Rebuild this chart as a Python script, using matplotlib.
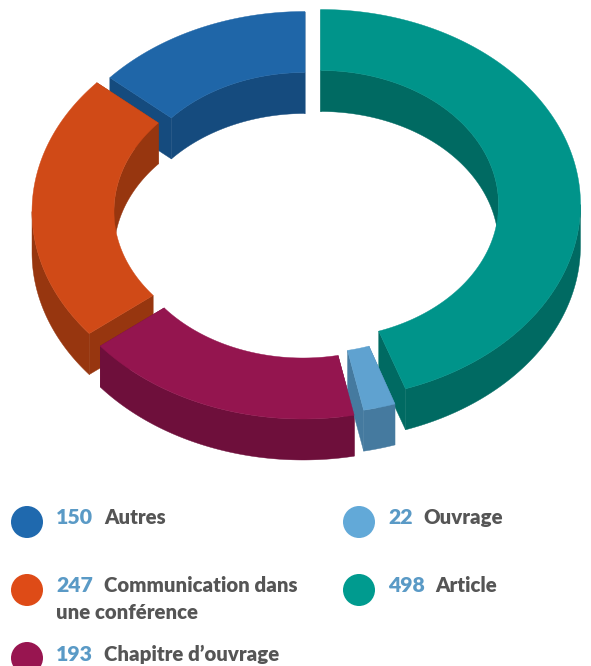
import numpy as np
import matplotlib
matplotlib.use("Agg")
import matplotlib.pyplot as plt
from matplotlib.patches import Circle, Polygon

# clockwise from the top, same order as the ring
labels = ["Article", "Ouvrage", "Chapitre d’ouvrage", "Communication dans", "Autres"]
values = [498, 22, 193, 247, 150]
top_colors = ["#00948A", "#5FA2D0", "#94154F", "#D04A17", "#1F66A8"]
side_colors = ["#006A62", "#457A9F", "#6E0F3B", "#97360F", "#154B7E"]

# legend reads in its own order
legend_values = [150, 22, 247, 498, 193]
legend_labels = ["Autres", "Ouvrage", "Communication dans", "Article", "Chapitre d’ouvrage"]
legend_colors = ["#1F69AE", "#62A9D8", "#DE4B17", "#009B8F", "#981550"]

plt.rcParams["font.family"] = ["Lato", "DejaVu Sans"]

W, H = 591, 666
fig = plt.figure(figsize=(W / 100, H / 100), dpi=100)
ax = fig.add_axes([0, 0, 1, 1])
ax.set_xlim(0, W)
ax.set_ylim(H, 0)
ax.axis("off")

# each slice is pulled out of the ring, so it has its own centre
centers = [(320.5, 204.5), (312.5, 219), (303, 224), (292, 211.5), (305, 206.5)]
rx_out, ry_out = 260, 195
rx_in, ry_in = 178, 134
depth = 41


def rim(c, theta, rx, ry, drop=0):
    t = np.radians(theta)
    return np.column_stack([c[0] + rx * np.sin(t), c[1] - ry * np.cos(t) + drop])


def span(a0, a1):
    return np.linspace(a0, a1, max(int(abs(a1 - a0) * 2), 2))


def face(pts, color, z):
    ax.add_patch(Polygon(pts, closed=True, facecolor=color, edgecolor=color, lw=0.3, zorder=z))


ends = np.cumsum(values) / sum(values) * 360
# teal stops a little short of its share in the reference
ends[0] -= 0.6
starts = np.concatenate([[0], np.cumsum(values)[:-1] / sum(values) * 360])

# far slices first, walls go under all the top faces
order = sorted(range(len(values)), key=lambda i: -np.cos(np.radians((starts[i] + ends[i]) / 2)))
z = 2
for i in order:
    a0, a1, c, side = starts[i], ends[i], centers[i], side_colors[i]

    # back wall of the hole, only the upper half can be seen
    for lo, hi in [(a0, min(a1, 90)), (max(a0, 270), a1)]:
        if hi > lo:
            th = span(lo, hi)
            face(np.vstack([rim(c, th, rx_in, ry_in), rim(c, th[::-1], rx_in, ry_in, depth)]), side, z)

    # cut ends
    for e in [a0, a1]:
        p = np.vstack([rim(c, [e], rx_in, ry_in), rim(c, [e], rx_out, ry_out),
                       rim(c, [e], rx_out, ry_out, depth), rim(c, [e], rx_in, ry_in, depth)])
        face(p, side, z)

    # outer wall, lower half only
    lo, hi = max(a0, 90), min(a1, 270)
    if hi > lo:
        th = span(lo, hi)
        face(np.vstack([rim(c, th, rx_out, ry_out), rim(c, th[::-1], rx_out, ry_out, depth)]), side, z)
    z += 1

for i in range(len(values)):
    th = span(starts[i], ends[i])
    c = centers[i]
    face(np.vstack([rim(c, th, rx_out, ry_out), rim(c, th[::-1], rx_in, ry_in)]), top_colors[i], 20)

# legend
leg_x = [27, 359, 27, 359, 27]
leg_y = [522, 522, 590, 590, 658]
base_y = [524, 524, 592, 592, 661]
fs = 14.7
renderer = fig.canvas.get_renderer()
for i in range(len(legend_values)):
    ax.add_patch(Circle((leg_x[i], leg_y[i]), 16, facecolor=legend_colors[i], edgecolor="none", zorder=3))
    n = ax.text(leg_x[i] + 29, base_y[i], str(legend_values[i]), color="#5A9AC6", fontsize=fs + 0.6,
                fontweight="heavy", va="baseline", ha="left")
    bb = n.get_window_extent(renderer)
    ax.text(bb.x1 + 11, base_y[i], legend_labels[i], color="#555555", fontsize=fs,
            fontweight="heavy", va="baseline", ha="left")
ax.text(56, 619, "une conférence", color="#555555", fontsize=fs, fontweight="heavy", va="baseline", ha="left")

fig.savefig("out.png", dpi=100)
